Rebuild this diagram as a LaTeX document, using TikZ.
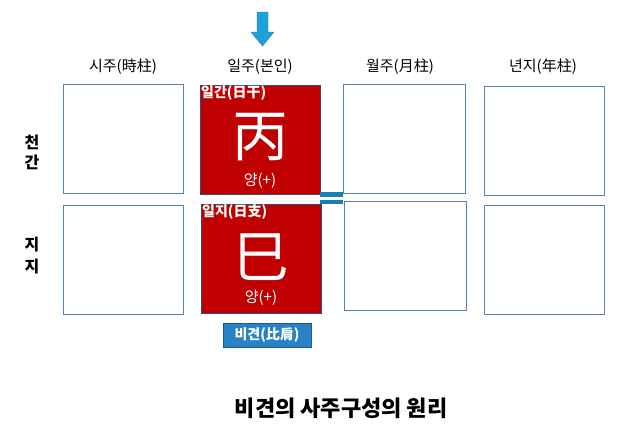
\documentclass[tikz,border=0pt]{standalone}
\usepackage{fontspec}
\setmainfont{Noto Sans CJK KR}
\definecolor{boxblue}{RGB}{84,130,180}
\definecolor{darkred}{RGB}{192,0,0}
\definecolor{arrowblue}{RGB}{30,160,220}
\definecolor{badge}{RGB}{40,130,200}
\tikzset{x=1pt,y=-1pt,
 cell/.style={draw=boxblue,line width=0.6pt,fill=white},
 redcell/.style={draw=boxblue!60!black,line width=0.6pt,fill=darkred},
 head/.style={font=\fontsize{15}{16}\selectfont},
 rowlab/.style={font=\fontsize{16}{17}\selectfont\bfseries},
 small/.style={text=white,font=\fontsize{14}{15}\selectfont\bfseries,anchor=north west,inner sep=1pt},
 big/.style={text=white,font=\fontsize{56}{58}\selectfont},
 yang/.style={text=white,font=\fontsize{15}{16}\selectfont}}
\begin{document}
\begin{tikzpicture}
\useasboundingbox (0,0) rectangle (640,432);
\node[head] (h1) at (123,67) {시주(時柱)};
\node[head] (h2) at (260,67) {일주(본인)};
\node[head] (h3) at (400,67) {월주(月柱)};
\node[head] (h4) at (543,67) {년지(年柱)};
\fill[arrowblue,draw=arrowblue!80!black,line width=0.4pt] (257,12) -- (268,12) -- (268,32) -- (274,32) -- (262.5,46) -- (251,32) -- (257,32) -- cycle;
\node[rowlab] (r1) at (32,142) {천};
\node[rowlab] (r2) at (32,162) {간};
\node[rowlab] (r3) at (32,245) {지};
\node[rowlab] (r4) at (32,267) {지};
\draw[cell] (63,84) rectangle (183,193);
\draw[cell] (63,205) rectangle (183,314);
\draw[redcell] (200,85) rectangle (320,194);
\draw[redcell] (201,204) rectangle (321,313);
\draw[cell] (343,84) rectangle (465,193);
\draw[cell] (344,201) rectangle (466,310);
\draw[cell] (484,86) rectangle (604,195);
\draw[cell] (484,205) rectangle (604,314);
\fill[arrowblue!80!black] (320,192) rectangle (343,197);
\fill[arrowblue!80!black] (320,200) rectangle (343,204);
\node[small] (l1) at (200,84) {일간(日干)};
\node[big] (c1) at (260,137) {丙};
\node[yang] (y1) at (260,181) {양(+)};
\node[small] (l2) at (201,203) {일지(日支)};
\node[big] (c2) at (261,257) {巳};
\node[yang] (y2) at (261,298) {양(+)};
\node[fill=badge,draw=badge!70!black,text=white,font=\fontsize{14}{15}\selectfont\bfseries,minimum width=88pt,minimum height=24pt,inner sep=0pt] (b) at (267,335) {비견(比肩)};
\node[font=\fontsize{22}{23}\selectfont\bfseries] (t) at (341,408) {비견의 사주구성의 원리};
\end{tikzpicture}
\end{document}
